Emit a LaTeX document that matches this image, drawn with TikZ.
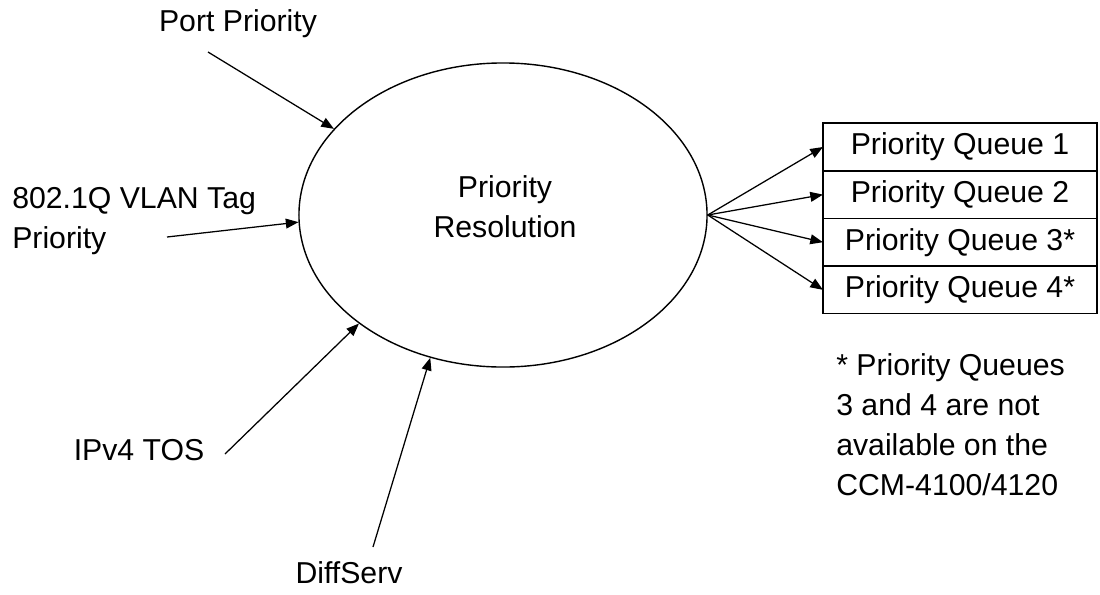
\documentclass[tikz,border=0pt]{standalone}
\usepackage{fontspec}
\setmainfont{Liberation Sans}
\usetikzlibrary{positioning, arrows.meta, shapes.geometric}

\begin{document}
\begin{tikzpicture}[x=0.025cm, y=-0.025cm,
    font=\fontsize{21.5}{28.5}\selectfont,
    >={Triangle[length=9pt, width=7pt]},
    feed/.style={->, line width=0.9pt},
    queue/.style={rectangle, draw, line width=1pt, outer sep=0pt, inner sep=0pt,
                  minimum width=6.85cm, minimum height=1.19cm}]
    \useasboundingbox (0, 0) rectangle (1100, 594);

    % resolver in the middle
    \node[ellipse, draw, line width=1pt, minimum width=10.2cm, minimum height=7.6cm] (res) at (503, 215) {};
    \node[align=center, inner sep=0pt] (reslabel) at (505, 207) {Priority\\Resolution};

    % the four output queues
    \node[queue] (q1) at (960, 147) {Priority Queue 1};
    \node[queue, below=0pt of q1] (q2) {Priority Queue 2};
    \node[queue, below=0pt of q2] (q3) {Priority Queue 3*};
    \node[queue, below=0pt of q3] (q4) {Priority Queue 4*};

    \node[align=left, anchor=west, inner sep=0pt] (note) at (836, 425)
        {* Priority Queues\\3 and 4 are not\\available on the\\CCM-4100/4120};

    % inputs
    \node[inner sep=0pt] (port) at (238, 24) {Port Priority};
    \node[align=left, anchor=west, inner sep=0pt] (vlan) at (12, 221) {802.1Q VLAN Tag\\Priority};
    \node[inner sep=0pt] (tos) at (139, 450) {IPv4 TOS};
    \node[inner sep=0pt] (diffserv) at (349, 573) {DiffServ};

    \coordinate (portstart) at (208, 52);
    \coordinate (vlanstart) at (167, 237);
    \coordinate (tosstart) at (225, 454);
    \coordinate (diffservstart) at (373, 547);

    \draw[feed] (portstart) -- (res.153);
    \draw[feed] (vlanstart) -- (res.182);
    \draw[feed] (tosstart) -- (res.217);
    \draw[feed] (diffservstart) -- (res.243);

    % fan out to the queues
    \foreach \q in {q1, q2, q3, q4}
        \draw[feed] (res.east) -- (\q.west);
\end{tikzpicture}
\end{document}
